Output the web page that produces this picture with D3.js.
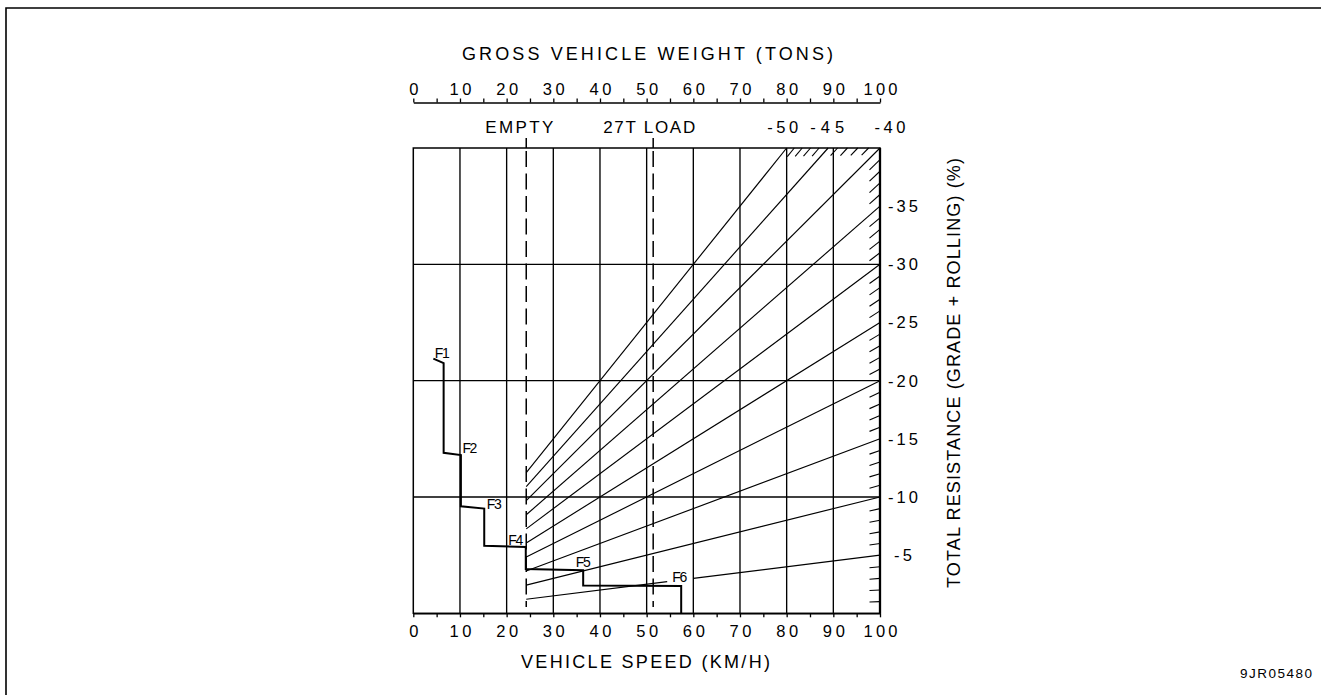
<!DOCTYPE html>
<html>
<head>
<meta charset="utf-8">
<script src="https://cdn.jsdelivr.net/npm/d3@7/dist/d3.min.js"></script>
<style>
  html, body { margin: 0; padding: 0; background: #fff; }
  svg { display: block; }
  text { font-family: "Liberation Sans", Arial, sans-serif; fill: #000; }
</style>
</head>
<body>
<svg id="chart" width="1321" height="695"></svg>
<script>
// ---- data ----
const speedTicks = [0, 5, 10, 15, 20, 25, 30, 35, 40, 45, 50, 55, 60, 65, 70, 75, 80, 85, 90, 95, 100];
const speedLabels = [0, 10, 20, 30, 40, 50, 60, 70, 80, 90, 100];
const weightTicks = [0, 5, 10, 15, 20, 25, 30, 35, 40, 45, 50, 55, 60, 65, 70, 75, 80, 85, 90, 95, 100];
const weightLabels = [0, 10, 20, 30, 40, 50, 60, 70, 80, 90, 100];
const gridSpeeds = [10, 20, 30, 40, 50, 60, 70, 80, 90];
const gridResist = [10, 20, 30];
const resistanceLines = [5, 10, 15, 20, 25, 30, 35, 40, 45, 50];
const resistanceLabels = [5, 10, 15, 20, 25, 30, 35];
const topResistLabels = [50, 45, 40];
const sideHatch = [1, 2, 3, 4, 6, 7, 8, 9, 11, 12, 13, 14, 16, 17, 18, 19, 21, 22, 23, 24, 26, 27, 28, 29, 31, 32, 33, 34, 36, 37, 38, 39];
const topHatch = [41, 42, 43, 44, 46, 47, 48, 49];
const emptyWeight = 24.2;   // tons
const loadedWeight = 51.4;  // tons (empty + 27T)
const weightMarks = ["EMPTY", "27T LOAD"];

// retarder limit curve (speed km/h, resistance %)
const curveSpeed  = [4.3, 6.5, 6.5, 10.2, 10.2, 15.2, 15.2, 24.1, 24.1, 36.4, 36.4, 57.4, 57.4];
const curveResist = [21.9, 21.5, 13.8, 13.6, 9.2, 9.0, 5.8, 5.7, 3.8, 3.7, 2.4, 2.35, 0];
const gearNames   = ["F1", "F2", "F3", "F4", "F5", "F6"];
const gearSpeed   = [4.3, 10.2, 15.2, 24.1, 36.4, 57.1];
const gearResist  = [21.9, 13.6, 9.0, 5.7, 3.7, 2.86];
const f6Gap = [54.4, 60.0]; // break in the 5% line around the F6 label

// ---- layout ----
const svg = d3.select("#chart");
const x = d3.scaleLinear().domain([0, 100]).range([413.3, 880]);
const y = d3.scaleLinear().domain([0, 40]).range([613.3, 148]);
const ink = "#000";

// page frame
svg.append("path").attr("d", "M6,695V8H1321").attr("fill", "none").attr("stroke", ink).attr("stroke-width", 1.6);

// grid
const grid = svg.append("g").attr("stroke", ink).attr("stroke-width", 1.35);
grid.selectAll(".gv").data(gridSpeeds).join("line")
  .attr("x1", d => x(d)).attr("x2", d => x(d)).attr("y1", y(0)).attr("y2", y(40));
grid.selectAll(".gh").data(gridResist).join("line")
  .attr("x1", x(0)).attr("x2", x(100)).attr("y1", d => y(d)).attr("y2", d => y(d));

// resistance lines radiate from the origin, drawn from empty weight to the edge
const lineGen = d3.line().x(d => x(d[0])).y(d => y(d[1]));
const rl = svg.append("g").attr("fill", "none").attr("stroke", ink).attr("stroke-width", 1.15);
resistanceLines.forEach(r => {
  const xEnd = Math.min(100, 4000 / r);
  const pts = r === 5
    ? [[[emptyWeight, r * emptyWeight / 100], [f6Gap[0], r * f6Gap[0] / 100]],
       [[f6Gap[1], r * f6Gap[1] / 100], [xEnd, r * xEnd / 100]]]
    : [[[emptyWeight, r * emptyWeight / 100], [xEnd, r * xEnd / 100]]];
  pts.forEach(seg => rl.append("path").attr("d", lineGen(seg)));
});

// edge hatching: short pieces of the intermediate resistance lines
const hat = svg.append("g").attr("fill", "none").attr("stroke", ink).attr("stroke-width", 1.1);
sideHatch.forEach(r => {
  hat.append("path").attr("d", lineGen([[97.75, r * 97.75 / 100], [100, r]]));
});
topHatch.forEach(r => {
  const xe = 4000 / r;
  hat.append("path").attr("d", lineGen([[xe - 1.5, r * (xe - 1.5) / 100], [xe, 40]]));
});

// plot frame
svg.append("rect").attr("x", x(0)).attr("y", y(40)).attr("width", x(100) - x(0)).attr("height", y(0) - y(40))
  .attr("fill", "none").attr("stroke", ink).attr("stroke-width", 1.5);
svg.append("line").attr("x1", x(100)).attr("x2", x(100)).attr("y1", y(40)).attr("y2", y(0))
  .attr("stroke", ink).attr("stroke-width", 2.3);

// empty / loaded weight markers
const marks = [emptyWeight, loadedWeight];
const dash = svg.append("g").attr("stroke", ink).attr("stroke-width", 1.5);
marks.forEach(w => {
  dash.append("line").attr("x1", x(w)).attr("x2", x(w)).attr("y1", 138).attr("y2", y(40));
  dash.append("line").attr("x1", x(w)).attr("x2", x(w)).attr("y1", y(40) + 3).attr("y2", 607)
    .attr("stroke-dasharray", "16,6.5");
});
svg.append("text").attr("x", x(emptyWeight) - 7).attr("y", 133).attr("text-anchor", "middle")
  .attr("font-size", 17).attr("textLength", 68).attr("lengthAdjust", "spacing").text(weightMarks[0]);
svg.append("text").attr("x", x(loadedWeight) - 4).attr("y", 133).attr("text-anchor", "middle")
  .attr("font-size", 17).attr("textLength", 92).attr("lengthAdjust", "spacing").text(weightMarks[1]);

// limit curve
svg.append("path")
  .attr("d", lineGen(curveSpeed.map((s, i) => [s, curveResist[i]])))
  .attr("fill", "none").attr("stroke", ink).attr("stroke-width", 2).attr("stroke-linejoin", "miter");

const gearOffset = [[9, -1], [9, -2], [10, 0], [-10, -2], [0, -3], [0, 2]];
gearNames.forEach((g, i) => {
  svg.append("text").attr("x", x(gearSpeed[i]) + gearOffset[i][0]).attr("y", y(gearResist[i]) + gearOffset[i][1])
    .attr("text-anchor", "middle").attr("font-size", 14).attr("textLength", 15)
    .attr("lengthAdjust", "spacing").text(g);
});

// numeric label helper: digits spaced like a drafting font
const labelLen = s => s.length === 1 ? null : s.length * 12 - 2;

// top axis: gross vehicle weight
const topAxis = d3.axisTop(x).tickValues(weightTicks).tickSize(4).tickSizeOuter(0)
  .tickFormat(d => weightLabels.includes(d) ? String(d) : "");
const gt = svg.append("g").attr("transform", "translate(0,102.5)").call(topAxis);
gt.select(".domain").attr("stroke-width", 1.5);
gt.selectAll(".tick line").attr("stroke-width", 1.3);
gt.selectAll(".tick text").attr("y", -7.5).attr("dy", null).attr("font-size", 16.5)
  .attr("font-family", null)
  .attr("textLength", d => labelLen(String(d)))
  .attr("lengthAdjust", "spacing");
svg.append("text").attr("x", 647.5).attr("y", 60).attr("text-anchor", "middle").attr("font-size", 18)
  .attr("textLength", 371).attr("lengthAdjust", "spacing").text("GROSS VEHICLE WEIGHT (TONS)");

// bottom axis: vehicle speed
const botAxis = d3.axisBottom(x).tickValues(speedTicks).tickSize(4).tickSizeOuter(0)
  .tickFormat(d => speedLabels.includes(d) ? String(d) : "");
const gb = svg.append("g").attr("transform", `translate(0,${y(0)})`).call(botAxis);
gb.select(".domain").attr("stroke-width", 1.5);
gb.selectAll(".tick line").attr("stroke-width", 1.3);
gb.selectAll(".tick text").attr("y", 23.7).attr("dy", null).attr("font-size", 16.5)
  .attr("font-family", null)
  .attr("textLength", d => labelLen(String(d)))
  .attr("lengthAdjust", "spacing");
svg.append("text").attr("x", 645.5).attr("y", 668).attr("text-anchor", "middle").attr("font-size", 18)
  .attr("textLength", 249).attr("lengthAdjust", "spacing").text("VEHICLE SPEED (KM/H)");

// resistance labels, right side and along the top
svg.selectAll(".rlab").data(resistanceLabels).join("text")
  .attr("x", 903).attr("y", d => y(d) + 6).attr("text-anchor", "middle").attr("font-size", 16.5)
  .attr("textLength", d => d < 10 ? 18 : 30).attr("lengthAdjust", "spacing")
  .text(d => "-" + d);
// top-edge labels sit where each line leaves the chart; the corner one is nudged outward
svg.selectAll(".tlab").data(topResistLabels).join("text")
  .attr("x", d => x(4000 / d) + (d === 40 ? 10 : (d === 45 ? -1 : -4)))
  .attr("y", 133).attr("text-anchor", "middle").attr("font-size", 16.5)
  .attr("textLength", d => d === 45 ? 34 : 31).attr("lengthAdjust", "spacing")
  .text(d => "-" + d);

svg.append("text").attr("transform", "translate(960,373) rotate(-90)").attr("text-anchor", "middle")
  .attr("font-size", 18).attr("textLength", 430).attr("lengthAdjust", "spacing")
  .text("TOTAL RESISTANCE (GRADE + ROLLING) (%)");

// drawing number
svg.append("text").attr("x", 1276).attr("y", 678).attr("text-anchor", "middle").attr("font-size", 13.5)
  .attr("textLength", 72).attr("lengthAdjust", "spacing").text("9JR05480");
</script>
</body>
</html>
